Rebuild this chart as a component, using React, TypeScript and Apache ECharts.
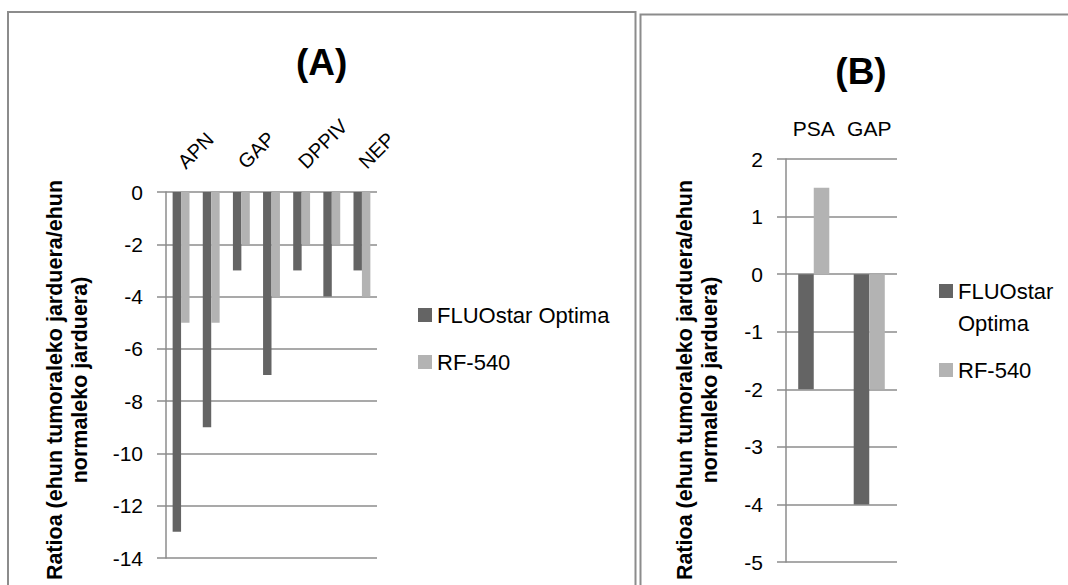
import React, { useEffect, useRef } from "react";
import * as echarts from "echarts";

const seriesNames = ["FLUOstar Optima", "RF-540"];

// Panel (A)
const categoriesA = ["APN", "", "GAP", "", "DPPIV", "", "NEP"];
const fluostarA = [-13, -9, -3, -7, -3, -4, -3];
const rf540A = [-5, -5, -2, -4, -2, -2, -4];
const yMinA = -14;
const yMaxA = 0;
const yStepA = 2;

// Panel (B)
const categoriesB = ["PSA", "GAP"];
const fluostarB = [-2, -4];
const rf540B = [1.5, -2];
const yMinB = -5;
const yMaxB = 2;
const yStepB = 1;

const titleA = "(A)";
const titleB = "(B)";
const yNameLines = ["Ratioa (ehun tumoraleko jarduera/ehun", "normaleko jarduera)"];

const FONT = '"Liberation Sans", Arial, sans-serif';
const DARK = "#646464";
const LIGHT = "#b3b3b3";
const GRID = "#8c8c8c";

function yAxisCfg(gridIndex: number, min: number, max: number, interval: number, margin: number) {
  return {
    type: "value",
    gridIndex,
    min,
    max,
    interval,
    axisLine: { show: true, lineStyle: { color: GRID, width: 1.5 } },
    axisTick: { show: true, inside: false, length: 9, lineStyle: { color: GRID, width: 1.5 } },
    splitLine: { show: true, lineStyle: { color: GRID, width: 1.5 } },
    axisLabel: { margin, fontSize: 21, color: "#000", fontFamily: FONT },
  };
}

export default function App() {
  const ref = useRef<HTMLDivElement>(null);
  useEffect(() => {
    if (!ref.current) return;
    const chart = echarts.init(ref.current, undefined, { renderer: "svg" });
    const option: any = {
      animation: false,
      backgroundColor: "#fff",
      grid: [
        { left: 166, top: 192, width: 211, height: 366 },
        { left: 786, top: 159, width: 111, height: 403 },
      ],
      xAxis: [
        {
          type: "category",
          gridIndex: 0,
          data: categoriesA,
          position: "top",
          axisLine: { show: false },
          axisTick: { show: false },
          splitLine: { show: false },
          axisLabel: { interval: 0, rotate: 45, margin: 27, fontSize: 20, color: "#000", fontFamily: FONT },
        },
        {
          type: "category",
          gridIndex: 1,
          data: categoriesB,
          position: "top",
          axisLine: { show: false },
          axisTick: { show: false },
          splitLine: { show: false },
          axisLabel: { interval: 0, margin: 20, fontSize: 21, color: "#000", fontFamily: FONT },
        },
      ],
      yAxis: [
        yAxisCfg(0, yMinA, yMaxA, yStepA, 23),
        yAxisCfg(1, yMinB, yMaxB, yStepB, 23),
      ],
      legend: [
        {
          data: seriesNames,
          orient: "vertical",
          left: 418,
          top: 299,
          padding: 0,
          itemWidth: 14,
          itemHeight: 14,
          itemGap: 15,
          icon: "rect",
          selectedMode: false,
          textStyle: { fontSize: 22, lineHeight: 32, color: "#000", fontFamily: FONT },
        },
        {
          data: seriesNames,
          orient: "vertical",
          left: 939,
          top: 243,
          padding: 0,
          itemWidth: 14,
          itemHeight: 14,
          itemGap: 15,
          icon: "rect",
          selectedMode: false,
          formatter: (name: string) => (name === "FLUOstar Optima" ? "\nFLUOstar\nOptima" : name),
          textStyle: { fontSize: 22, lineHeight: 32, color: "#000", fontFamily: FONT },
        },
      ],
      series: [
        { name: seriesNames[0], type: "bar", xAxisIndex: 0, yAxisIndex: 0, data: fluostarA, barWidth: "28%", barGap: "0%", itemStyle: { color: DARK } },
        { name: seriesNames[1], type: "bar", xAxisIndex: 0, yAxisIndex: 0, data: rf540A, barWidth: "28%", barGap: "0%", itemStyle: { color: LIGHT } },
        { name: seriesNames[0], type: "bar", xAxisIndex: 1, yAxisIndex: 1, data: fluostarB, barWidth: "28%", barGap: "0%", itemStyle: { color: DARK } },
        { name: seriesNames[1], type: "bar", xAxisIndex: 1, yAxisIndex: 1, data: rf540B, barWidth: "28%", barGap: "0%", itemStyle: { color: LIGHT } },
      ],
      graphic: [
        {
          type: "rect",
          shape: { x: 8, y: 12, width: 627.5, height: 600 },
          style: { fill: "none", stroke: GRID, lineWidth: 2 },
          silent: true,
          z: -1,
        },
        {
          type: "rect",
          shape: { x: 640.5, y: 14.5, width: 500, height: 600 },
          style: { fill: "none", stroke: GRID, lineWidth: 2 },
          silent: true,
          z: -1,
        },
        {
          type: "text",
          x: 321.7,
          y: 62,
          style: { text: titleA, align: "center", verticalAlign: "middle", font: `bold 37px ${FONT}`, fill: "#000" },
        },
        {
          type: "text",
          x: 861,
          y: 71,
          style: { text: titleB, align: "center", verticalAlign: "middle", font: `bold 37px ${FONT}`, fill: "#000" },
        },
        {
          type: "text",
          x: 67.5,
          y: 380,
          rotation: Math.PI / 2,
          style: { text: yNameLines.join("\n"), align: "center", verticalAlign: "middle", font: `bold 21.5px ${FONT}`, lineHeight: 25, fill: "#000" },
        },
        {
          type: "text",
          x: 697.5,
          y: 380,
          rotation: Math.PI / 2,
          style: { text: yNameLines.join("\n"), align: "center", verticalAlign: "middle", font: `bold 21.5px ${FONT}`, lineHeight: 25, fill: "#000" },
        },
      ],
    };
    chart.setOption(option);
    return () => chart.dispose();
  }, []);
  return (
    <div
      ref={ref}
      style={{ position: "fixed", left: 0, top: 0, width: 1068, height: 585, background: "#fff" }}
    />
  );
}
